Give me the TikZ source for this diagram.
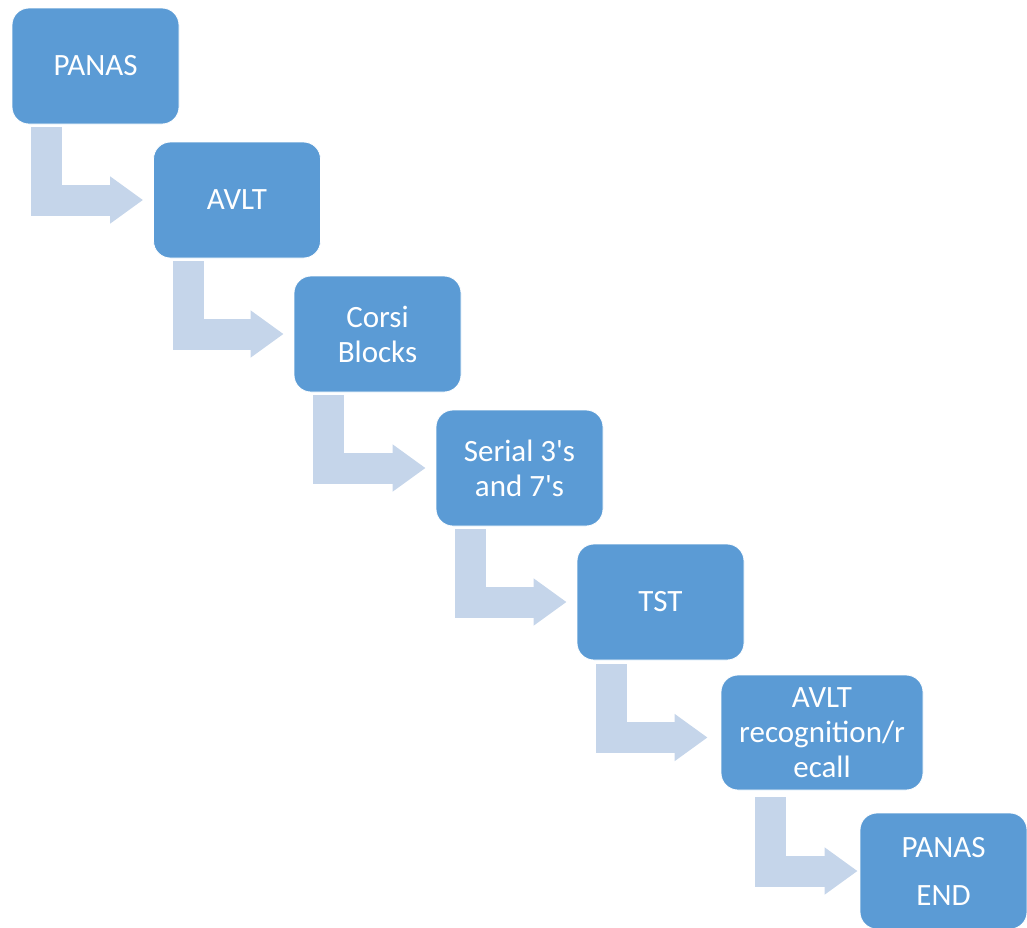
\documentclass[tikz,border=0pt]{standalone}
\usepackage{fontspec}
\setmainfont{Carlito}
\usetikzlibrary{arrows.meta}
\definecolor{boxblue}{HTML}{5B9BD5}
\definecolor{flowblue}{HTML}{C5D5EA}

\begin{document}
\begin{tikzpicture}[x=1pt,y=-1pt,
 task/.style={fill=boxblue,draw=white,line width=0.8pt,rounded corners=17pt,minimum width=167pt,minimum height=116pt,inner sep=0pt,text=white,align=center,font=\fontsize{31}{35}\selectfont},
 flow/.style={draw=flowblue,line width=31pt,-{Triangle[length=33pt,width=45pt]}}]
 \useasboundingbox (0,0) rectangle (1027,927); %全体の大きさ
 \clip (0,0) rectangle (1027,927); %はみ出し部分を切る
 \node[task] (panas) at (95.5,66) {PANAS}; %1番目
 \node[task] (avlt) at (237,200) {AVLT}; %2番目
 \node[task] (corsi) at (377.5,334) {Corsi\\Blocks}; %3番目
 \node[task] (serial) at (519.5,468) {Serial 3\textquotesingle s\\and 7\textquotesingle s}; %4番目
 \node[task] (tst) at (660.5,602) {TST}; %5番目
 \node[task,minimum width=202pt,minimum height=115pt] (avltrec) at (822,732.5) {AVLT\\recognition/r\\ecall}; %6番目
 \node[task,font=\fontsize{31}{48}\selectfont] (panasend) at (943.5,871) {PANAS\\END}; %最後
 \draw[flow] ([xshift=34.5pt,yshift=-3pt]panas.south west) |- ([xshift=-10pt]avlt.west); %矢印1
 \draw[flow] ([xshift=35pt,yshift=-3pt]avlt.south west) |- ([xshift=-10pt]corsi.west); %矢印2
 \draw[flow] ([xshift=35pt,yshift=-3pt]corsi.south west) |- ([xshift=-10pt]serial.west); %矢印3
 \draw[flow] ([xshift=35pt,yshift=-3pt]serial.south west) |- ([xshift=-10pt]tst.west); %矢印4
 \draw[flow] ([xshift=35pt,yshift=-4pt]tst.south west) |- ([xshift=-13pt,yshift=-5pt]avltrec.west); %矢印5
 \draw[flow] ([xshift=49.5pt,yshift=-7pt]avltrec.south west) |- ([xshift=-2pt]panasend.west); %矢印6
\end{tikzpicture}
\end{document}
